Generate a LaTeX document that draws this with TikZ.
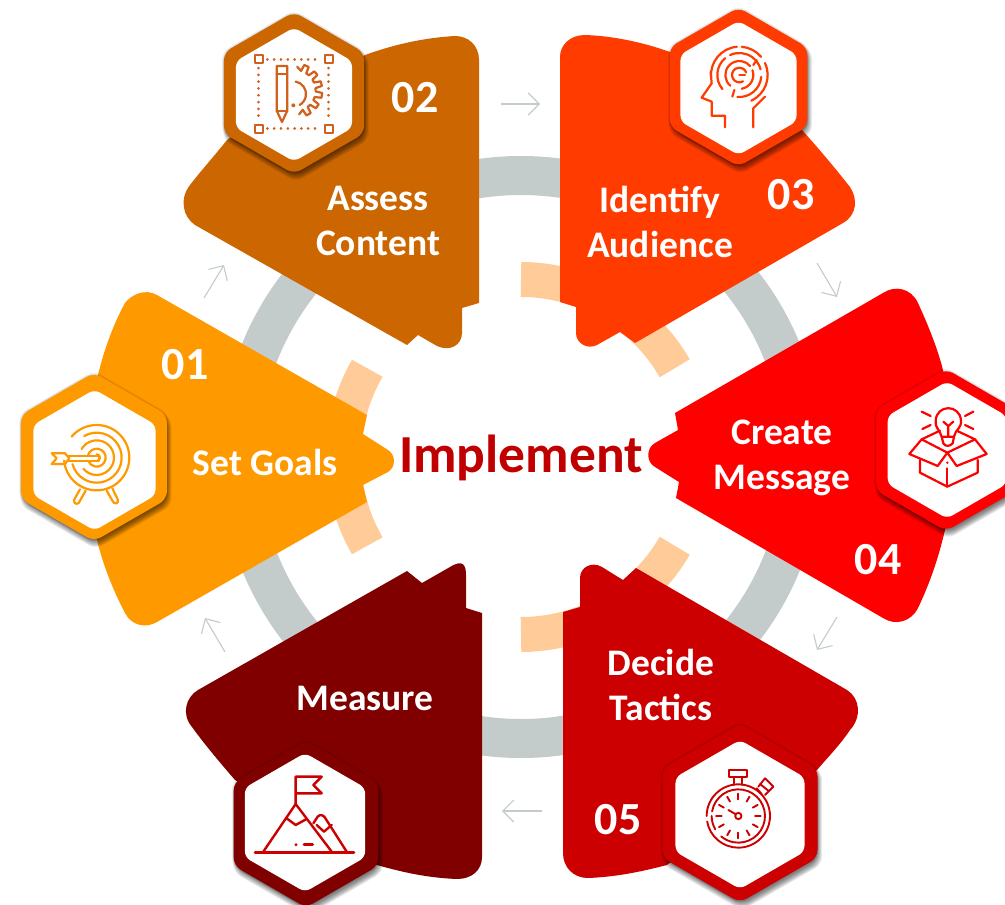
\documentclass[tikz,border=0pt]{standalone}
\usepackage{fontspec}
\setmainfont{Carlito}
\usetikzlibrary{arrows.meta}
\definecolor{cA}{HTML}{FF9900}
\definecolor{cB}{HTML}{CC6600}
\definecolor{cC}{HTML}{FF3B00}
\definecolor{cD}{HTML}{FF0000}
\definecolor{cE}{HTML}{CC0000}
\definecolor{cF}{HTML}{800000}
\definecolor{ringgray}{HTML}{C3CCCB}
\definecolor{peach}{HTML}{FFCC99}
\definecolor{titlecol}{HTML}{C00000}
\definecolor{iconB}{HTML}{D0601C}
\tikzset{
  flow/.style={draw=ringgray,line width=1.1pt,-{Straight Barb[length=11pt,width=22pt,line width=1.1pt]}},
  lab/.style={text=white,font=\bfseries\fontsize{37.5}{45}\selectfont,align=center,inner sep=0pt},
  num/.style={text=white,font=\bfseries\fontsize{46}{46}\selectfont,inner sep=0pt},
  ic/.style={line width=2.2pt,line cap=round,line join=round},
  zoomed/.style={x=0.33333pt,y=-0.33333pt}
}
\newcommand\hexpath[1]{(90:#1) -- (30:#1) -- (-30:#1) -- (-90:#1) -- (-150:#1) -- (150:#1) -- cycle}
% cx cy R innerdx innerdy innerR colour
\newcommand\hexa[7]{%
  \begin{scope}[shift={(#1,#2)}]
    \foreach \s in {0,1,...,6}{
      \fill[black,opacity=0.08,rounded corners=8pt,shift={(2,5)}] \hexpath{#3+3-\s};
    }
    \foreach \s in {0,1,2}{
      \fill[black,opacity=0.07,rounded corners=8pt] \hexpath{#3+\s};
    }
    \fill[#7,rounded corners=8pt] \hexpath{#3};
    \fill[white,rounded corners=6pt,shift={(#4,#5)}] \hexpath{#6};
  \end{scope}}
\newcommand\za[5]{(#1,#2) ++(#4:#3) arc[start angle=#4,end angle=#5,radius=#3]}
\begin{document}
\begin{tikzpicture}[x=1pt,y=-1pt]
\clip (0,0) rectangle (1005,905);
\fill[white] (0,0) rectangle (1005,905);
% rings
\draw[ringgray,line width=39pt] (521,457) circle[radius=281.5];
\begin{scope}[line width=35pt,peach]
  \draw \za{521}{457}{177.5}{-90}{-30};
  \draw \za{521}{457}{177.5}{30}{90};
  \draw \za{521}{457}{177.5}{150}{210};
\end{scope}
% direction arrows
\draw[flow] (501,104) -- (540,104);
\draw[flow] (817,263) -- (837,297);
\draw[flow] (837,617) -- (817,650);
\draw[flow] (542,811) -- (502,811);
\draw[flow] (225,652) -- (205,618);
\draw[flow] (204,298) -- (224,265);
% blades
\fill[cA] (125,303) .. controls (131,295) and (145,288) .. (157,295) -- (367,415) -- (363,434) -- (388,450)
  .. controls (396,455) and (396,467) .. (388,472) -- (363,485) -- (367,502) -- (157,622)
  .. controls (145,629) and (131,625) .. (125,613) .. controls (113,590) and (103,565) .. (97,540)
  -- (80,457) -- (98,375) .. controls (104,350) and (113,325) .. (125,303) -- cycle;
\fill[cB] (479,60) .. controls (479,45) and (468,36) .. (455,36) .. controls (420,38) and (390,46) .. (365,55)
  -- (300,90) -- (227,140) .. controls (215,155) and (200,172) .. (190,185)
  .. controls (179,199) and (183,217) .. (195,225) -- (407,345) -- (418,335) -- (437,346)
  .. controls (450,352) and (462,345) .. (462,333) -- (462,308) -- (479,303) -- cycle;
\fill[cC] (560,57) .. controls (560,45) and (570,35) .. (585,35) .. controls (615,36) and (645,43) .. (670,52)
  -- (740,90) -- (802,130) .. controls (820,150) and (835,168) .. (850,187)
  .. controls (858,199) and (857,215) .. (843,223) -- (635,343) -- (620,332) -- (597,345)
  .. controls (587,350) and (576,343) .. (576,333) -- (576,307) -- (560,302) -- cycle;
\fill[cD] (675,413) -- (883,293) .. controls (895,285) and (911,288) .. (918,303)
  .. controls (929,327) and (938,350) .. (943,370) -- (960,450) -- (945,530)
  .. controls (938,560) and (929,585) .. (918,608) .. controls (911,622) and (895,626) .. (883,618)
  -- (676,498) -- (679,482) -- (655,467) .. controls (646,462) and (646,448) .. (655,443)
  -- (678,430) -- cycle;
\fill[cE] (563,612) -- (580,607) -- (580,578) .. controls (580,567) and (592,561) .. (602,567)
  -- (623,580) -- (636,568) -- (847,690) .. controls (860,698) and (862,717) .. (850,730)
  .. controls (840,745) and (828,757) .. (817,770) -- (740,810) -- (667,865)
  .. controls (640,872) and (615,877) .. (588,878) .. controls (573,878) and (563,867) .. (563,853) -- cycle;
\fill[cF] (482,613) -- (466,608) -- (466,575) .. controls (466,565) and (463,559) .. (450,567)
  -- (422,583) -- (407,571) -- (198,690) .. controls (186,697) and (181,714) .. (192,727)
  .. controls (205,745) and (222,765) .. (235,780) -- (305,820) -- (377,865)
  .. controls (405,873) and (430,878) .. (457,879) .. controls (472,879) and (482,870) .. (482,857) -- cycle;
% hexagons
\hexa{94}{457}{84.3}{0.5}{3}{70.5}{cA}
\hexa{294}{93}{81}{0}{1.5}{67}{cB}
\hexa{738.5}{87}{79.5}{0}{1}{67}{cC}
\hexa{946}{450}{81}{1}{0}{68.5}{cD}
\hexa{740}{813}{89.5}{0}{1.5}{74.5}{cE}
\hexa{306}{824}{83.5}{-1}{-1.5}{69.5}{cF}
% icon 01: target
\begin{scope}[shift={(0,280)},zoomed]
  \begin{scope}[ic,draw=cA]
    \draw \za{290}{533}{98}{-140}{175};
    \draw \za{290}{533}{75}{-120}{165};
    \draw \za{290}{533}{52}{-150}{140};
    \draw \za{290}{533}{27}{-170}{160};
    \draw \za{290}{533}{10}{-90}{90};
    \draw (205,527) -- (298,527) -- (298,543) -- (205,543);
    \draw (155,520) -- (195,520) -- (208,535) -- (195,552) -- (155,552) -- (170,535) -- cycle;
    \draw (240,628) -- (222,660) .. controls (220,675) and (238,675) .. (240,662) -- (257,632);
    \draw (320,632) -- (337,662) .. controls (342,675) and (358,672) .. (353,658) -- (337,625);
  \end{scope}
\end{scope}
% icon 02: design
\begin{scope}[shift={(180,0)},zoomed]
  \begin{scope}[ic,draw=iconB]
    \foreach \px/\py in {236/178,446/178,236/386,446/386}{
      \draw (\px-12,\py-12) rectangle (\px+12,\py+12);
    }
    \draw[dash pattern=on 0.1pt off 6.7pt,line width=2.8pt] (262,178) -- (425,178);
    \draw[dash pattern=on 0.1pt off 6.7pt,line width=2.8pt] (262,386) -- (425,386);
    \draw[dash pattern=on 0.1pt off 6.7pt,line width=2.8pt] (236,204) -- (236,365);
    \draw[dash pattern=on 0.1pt off 6.7pt,line width=2.8pt] (446,204) -- (446,365);
    \draw (290,198) -- (322,198) -- (322,332) -- (306,366) -- (290,332) -- cycle;
    \draw (290,222) -- (322,222);
    \draw (290,332) -- (322,332);
    \begin{scope}[shift={(345,272)}]
      \draw (-85:72) \foreach \a in {-65,-40,-15,10,35,60}{ -- (\a-8:62) -- (\a-5:82) -- (\a+5:82) -- (\a+8:62)} -- (80:72);
    \end{scope}
    \draw \za{340}{282}{38}{-80}{60};
    \fill[iconB] (340,316) circle[radius=2pt];
  \end{scope}
\end{scope}
% icon 03: head with maze
\begin{scope}[shift={(500,0)},zoomed]
  \begin{scope}[ic,draw=cC]
    \draw (632,215) -- (635,250) -- (605,293) -- (635,305) -- (635,347) -- (675,347) -- (675,382);
    \draw (760,382) -- (760,325) -- (795,290);
    \draw \za{718}{225}{85}{175}{265};
    \draw \za{718}{225}{85}{275}{320};
    \draw \za{718}{225}{85}{335}{425};
    \draw \za{718}{225}{66}{140}{230};
    \draw \za{718}{225}{66}{245}{345};
    \draw \za{718}{225}{66}{5}{95};
    \draw \za{718}{225}{42}{130}{320};
    \draw \za{718}{225}{42}{340}{440};
    \draw \za{718}{225}{22}{60}{340};
    \draw (718,225) -- (735,225);
    \draw (697,290) -- (703,270);
    \draw (770,180) -- (760,195);
  \end{scope}
\end{scope}
% icon 04: box with bulb
\begin{scope}[shift={(640,280)},zoomed]
  \begin{scope}[ic,draw=cD]
    \draw (905,470) .. controls (900,450) and (885,445) .. (887,422) .. controls (890,372) and (960,372) .. (963,422) .. controls (965,445) and (945,450) .. (942,470);
    \draw (905,470) -- (942,470) -- (938,490) .. controls (930,500) and (915,500) .. (910,490) -- cycle;
    \draw (925,470) -- (925,438) (910,425) -- (925,438) -- (940,425);
    \draw (845,395) -- (872,408) (1000,395) -- (975,408) (847,447) -- (872,435) (1000,447) -- (975,435);
    \draw (808,522) -- (845,478) -- (922,518) -- (893,558) -- cycle;
    \draw (1040,522) -- (1005,478) -- (922,518) -- (950,558) -- cycle;
    \draw (845,478) -- (900,452) (1005,478) -- (950,452);
    \draw (840,540) -- (840,578) -- (922,620) -- (1013,578) -- (1013,540);
    \draw (922,620) -- (922,565);
    \fill[cD] (922,548) circle[radius=1.3pt];
  \end{scope}
\end{scope}
% icon 05: stopwatch
\begin{scope}[shift={(500,530)},zoomed]
  \begin{scope}[ic,draw=cE,line width=1.9pt]
    \draw \za{715}{858}{95}{-180}{170};
    \draw \za{715}{858}{80}{-170}{130};
    \draw \za{715}{858}{80}{150}{180};
    \foreach \a in {0,30,...,330}{
      \draw (715,858) ++(\a:50) -- ++(\a:17);
    }
    \draw (715,858) circle[radius=9pt*0.35];
    \draw (706,852) -- (685,840);
    \draw (688,720) rectangle (742,742);
    \draw (703,742) -- (703,765) (727,742) -- (727,765);
    \draw (770,775) -- (785,792);
    \draw (775,770) -- (795,745) -- (820,770) -- (795,795);
    \draw (780,762) -- (805,782);
  \end{scope}
\end{scope}
% icon 06: mountain
\begin{scope}[shift={(180,550)},zoomed]
  \begin{scope}[ic,draw=cE,line width=2.4pt]
    \draw[line width=2.8pt] (225,908) -- (522,908);
    \draw (250,905) -- (347,762) -- (455,905);
    \draw (320,805) -- (347,825) -- (378,808);
    \draw (347,762) -- (347,680) -- (425,680) -- (400,705) -- (425,730) -- (347,730);
    \draw (400,820) -- (413,800) .. controls (420,792) and (430,795) .. (435,803) -- (500,905);
    \draw (410,825) -- (432,845) -- (455,825);
    \draw[line width=2.8pt] (372,884) -- (398,884);
    \fill[cE] (348,884) circle[radius=1.6pt];
  \end{scope}
\end{scope}
% texts
\node[text=titlecol,font=\bfseries\fontsize{53.5}{53.5}\selectfont,inner sep=0pt] (title) at (521,458) {Implement};
\node[lab] (l1) at (265,462) {Set Goals};
\node[lab] (l2) at (378,221) {Assess\\Content};
\node[lab] (l3) at (660,222) {Identify\\Audience};
\node[lab] (l4) at (782,458) {Create\\Message};
\node[lab] (l5) at (661,685) {Decide\\Tactics};
\node[lab] (l6) at (365,698) {Measure};
\node[num] (n1) at (185,365) {01};
\node[num] (n2) at (415,98) {02};
\node[num] (n3) at (791,195) {03};
\node[num] (n4) at (878,560) {04};
\node[num] (n5) at (618,820) {05};
\end{tikzpicture}
\end{document}
